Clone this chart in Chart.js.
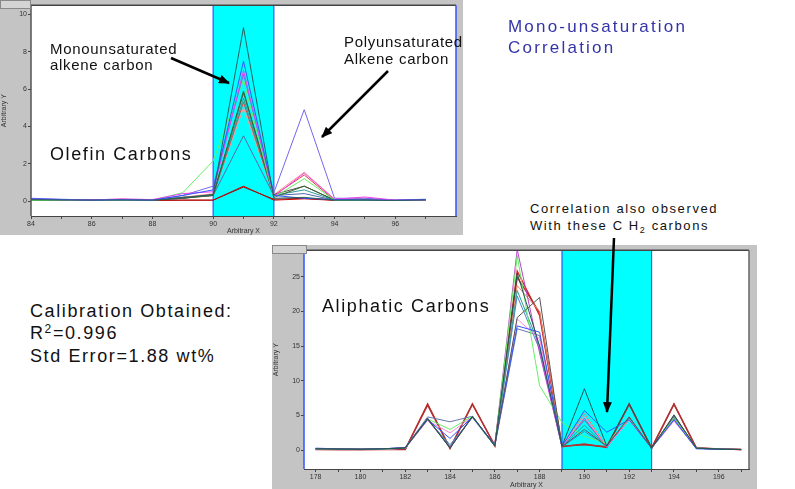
<!DOCTYPE html>
<html><head><meta charset="utf-8">
<script src="https://cdn.jsdelivr.net/npm/chart.js@4.4.1/dist/chart.umd.min.js"></script>
<style>
html,body{margin:0;padding:0;background:#fff;width:795px;height:489px;overflow:hidden;font-family:"Liberation Sans",Arial,sans-serif;}
.frame{position:absolute;background:#c4c4c4;}
.frame canvas{position:absolute;left:0;top:0;}
.tab{position:absolute;background:#d4d4d4;border:1px solid #888;box-sizing:border-box;}
.txt{position:absolute;color:#111;white-space:nowrap;}
</style></head>
<body>
<div class="frame" id="f1" style="left:0;top:0;width:463px;height:235px;"><canvas id="c1"></canvas></div>
<div class="tab" style="left:0;top:0;width:31px;height:9px;"></div>
<div class="frame" id="f2" style="left:272px;top:245px;width:485px;height:244px;"><canvas id="c2"></canvas></div>
<div class="tab" style="left:272px;top:245px;width:35px;height:9px;"></div>

<div class="txt" style="left:50px;top:41px;font-size:15px;line-height:16px;letter-spacing:0.7px;">Monounsaturated<br>alkene carbon</div>
<div class="txt" style="left:344px;top:33px;font-size:15px;line-height:17px;letter-spacing:0.7px;">Polyunsaturated<br>Alkene carbon</div>
<div class="txt" style="left:50px;top:144px;font-size:18px;line-height:20px;letter-spacing:1.6px;">Olefin Carbons</div>
<div class="txt" style="left:508px;top:16px;font-size:17px;line-height:21px;letter-spacing:2.2px;color:#3434a8;">Mono-unsaturation<br>Correlation</div>
<div class="txt" style="left:530px;top:201px;font-size:13px;line-height:16.6px;letter-spacing:1.6px;">Correlation also observed<br>With these C H<span style="font-size:9px;position:relative;top:3px;">2</span> carbons</div>
<div class="txt" style="left:30px;top:301px;font-size:18px;line-height:21.6px;letter-spacing:1.6px;">Calibration Obtained:<br>R<span style="font-size:12px;position:relative;top:-6px;">2</span>=0.996<br>Std Error=1.88 wt%</div>
<div class="txt" style="left:322px;top:296px;font-size:18px;line-height:20px;letter-spacing:1.6px;">Aliphatic Carbons</div>

<svg style="position:absolute;left:0;top:0;" width="795" height="489">
<defs><marker id="ah" markerWidth="8" markerHeight="7" refX="7" refY="3.5" orient="auto" markerUnits="userSpaceOnUse"><path d="M0,0 L8,3.5 L0,7 Z" fill="#000"/></marker>
<marker id="ah2" markerWidth="11" markerHeight="9" refX="10" refY="4.5" orient="auto" markerUnits="userSpaceOnUse"><path d="M0,0 L11,4.5 L0,9 Z" fill="#000"/></marker></defs>
<line x1="171" y1="58" x2="229" y2="83" stroke="#000" stroke-width="2.5" marker-end="url(#ah2)"/>
<line x1="388" y1="71" x2="322" y2="137" stroke="#000" stroke-width="2.5" marker-end="url(#ah2)"/>
<line x1="614" y1="238" x2="607" y2="412" stroke="#000" stroke-width="2.5" marker-end="url(#ah2)"/>
</svg>

<script>
// ---------- Top chart (Olefin) ----------
const topX = [84,85,86,87,88,89,90,91,92,93,94,95,96,97];
const topXTicks = [84,85,86,87,88,89,90,91,92,93,94,95,96,97];
const topYTicks = [0,2,4,6,8,10];
const topBand = [90,92];
const o1  = [0.08,0.06,0.05,0.06,0.05,0.15,0.35,9.3,0.15,0.2,0.05,0.05,0.03,0.06];
const o2  = [0.12,0.08,0.05,0.08,0.05,0.3,0.6,7.5,0.3,0.15,0.08,0.06,0.04,0.08];
const o3  = [0.1,0.07,0.06,0.12,0.08,0.4,0.5,7.0,0.25,1.5,0.1,0.22,0.05,0.05];
const o4  = [0.15,0.1,0.05,0.07,0.05,0.3,0.8,6.8,0.45,4.9,0.15,0.15,0.05,0.1];
const o5  = [0.05,0.05,0.03,0.05,0.05,0.45,2.15,6.5,0.2,1.2,0.05,0.03,0.03,0.05];
const o6  = [0.05,0.05,0.05,0.05,0.05,0.15,0.3,5.9,0.2,0.8,0.05,0.05,0.03,0.05];
const o7  = [0.06,0.05,0.05,0.05,0.05,0.2,0.35,5.8,0.35,0.8,0.06,0.05,0.04,0.06];
const o8  = [0.06,0.05,0.05,0.06,0.05,0.2,0.3,5.5,0.3,0.6,0.05,0.05,0.04,0.06];
const o9  = [0.05,0.05,0.05,0.08,0.05,0.15,0.3,5.3,0.3,1.4,0.05,0.05,0.04,0.05];
const o10 = [0.06,0.05,0.05,0.1,0.06,0.2,0.4,5.0,0.35,1.55,0.1,0.15,0.04,0.05];
const o11 = [0.08,0.06,0.05,0.06,0.05,0.2,0.3,3.5,0.3,0.4,0.05,0.05,0.04,0.06];
const o12 = [0.05,0.05,0.04,0.06,0.04,0.05,0.05,0.8,0.05,0.12,0.04,0.05,0.03,0.05];
const o13 = [0.05,0.04,0.04,0.05,0.04,0.05,0.05,0.75,0.1,0.15,0.05,0.04,0.03,0.05];
const topSeries = [o1,o2,o3,o4,o5,o6,o7,o8,o9,o10,o11,o12,o13];
const topColors = ['#2b5f5f','#3355ff','#ee44ee','#7766ee','#66ee66','#336633','#555555','#339999','#dd4444','#ff9999','#5566aa','#cc0000','#772222'];

// ---------- Bottom chart (Aliphatic) ----------
const botX = [178,179,180,181,182,183,184,185,186,187,188,189,190,191,192,193,194,195,196,197];
const botXTicks = [178,179,180,181,182,183,184,185,186,187,188,189,190,191,192,193,194,195,196,197];
const botYTicks = [0,5,10,15,20,25];
const botBand = [189,193];
const a1  = [0.1,0.1,0.1,0.1,0.1,6.7,0.25,6.7,0.6,25.8,19.4,0.5,0.9,0.4,6.7,0.3,6.7,0.3,0.2,0.1];
const a2  = [0.15,0.1,0.1,0.12,0.15,6.5,0.3,6.6,0.7,24.9,19.8,0.6,0.8,0.5,6.6,0.3,6.6,0.35,0.2,0.1];
const a3  = [0.2,0.15,0.15,0.2,0.3,4.6,0.3,4.9,0.6,25.5,15.0,0.6,8.85,0.6,6.7,0.3,5.1,0.3,0.15,0.1];
const a4  = [0.2,0.2,0.15,0.2,0.35,4.5,0.3,4.8,0.7,19.1,22.0,0.5,3.0,0.6,4.8,0.3,5.0,0.3,0.2,0.1];
const a5  = [0.3,0.2,0.15,0.2,0.4,4.4,1.7,4.8,0.8,17.9,17.0,0.6,5.7,2.6,4.4,0.3,4.4,0.2,0.15,0.1];
const a6  = [0.2,0.15,0.1,0.15,0.3,4.5,3.0,4.9,0.6,28.0,9.3,4.0,2.0,1.0,4.5,0.3,4.6,0.3,0.15,0.1];
const a7  = [0.2,0.15,0.1,0.15,0.3,4.3,2.5,4.8,0.7,18.9,16.0,0.6,4.8,0.5,4.3,0.3,4.2,0.3,0.15,0.1];
const a8  = [0.15,0.1,0.1,0.15,0.25,4.4,0.4,4.9,0.7,28.9,14.0,0.5,4.6,0.4,4.5,0.3,4.5,0.3,0.15,0.1];
const a9  = [0.25,0.2,0.15,0.2,0.4,4.8,4.1,4.9,0.6,17.5,16.5,0.6,4.3,0.6,4.6,0.3,4.8,0.3,0.15,0.1];
const a10 = [0.2,0.15,0.1,0.15,0.3,4.5,0.5,4.8,0.6,23.0,15.0,0.5,3.6,0.5,4.7,0.3,4.6,0.3,0.15,0.1];
const a11 = [0.2,0.15,0.1,0.15,0.3,4.6,0.4,4.9,0.7,23.7,20.0,0.6,5.3,0.5,4.8,0.3,4.7,0.3,0.15,0.1];
const a12 = [0.2,0.15,0.1,0.15,0.3,4.4,0.8,4.7,0.6,22.2,14.5,0.5,2.7,0.6,4.5,0.3,4.3,0.3,0.15,0.1];
const botSeries = [a3,a4,a5,a6,a7,a8,a9,a10,a11,a12,a2,a1];
const botColors = ['#225555','#555555','#3355ff','#66ee66','#ff88dd','#bb44cc','#6677aa','#339999','#ee8866','#4488cc','#aa3333','#dd2222'];

function makeDatasets(xs, series, colors){
  return series.map((s,i)=>({
    data: xs.map((x,j)=>({x:x,y:s[j]})),
    borderColor: colors[i], borderWidth: (colors[i]==='#dd2222'||colors[i]==='#aa3333')?1.4:1,
    pointRadius:0, fill:false, tension:0
  }));
}

const panelPlugin = {
  id:'panel',
  beforeDatasetsDraw(chart, args, opts){
    const {ctx, chartArea:a, scales:{x}} = chart;
    ctx.save();
    ctx.fillStyle='#fff';
    ctx.fillRect(a.left,a.top,a.right-a.left,a.bottom-a.top);
    const b0 = x.getPixelForValue(opts.band[0]), b1 = x.getPixelForValue(opts.band[1]);
    ctx.fillStyle='#00ffff';
    ctx.fillRect(b0,a.top,b1-b0,a.bottom-a.top);
    ctx.strokeStyle='#3355ff'; ctx.lineWidth=1.2;
    ctx.beginPath(); ctx.moveTo(b0,a.top); ctx.lineTo(b0,a.bottom); ctx.moveTo(b1,a.top); ctx.lineTo(b1,a.bottom); ctx.stroke();
    ctx.restore();
  },
  afterDraw(chart, args, opts){
    const {ctx, chartArea:a} = chart;
    ctx.save();
    ctx.lineWidth=1.5;
    ctx.strokeStyle='#444';
    ctx.beginPath(); ctx.moveTo(a.left,a.top); ctx.lineTo(a.right,a.top); ctx.stroke();
    ctx.strokeStyle=opts.leftColor; ctx.beginPath(); ctx.moveTo(a.left,a.top); ctx.lineTo(a.left,a.bottom); ctx.stroke();
    ctx.strokeStyle=opts.rightColor; ctx.beginPath(); ctx.moveTo(a.right,a.top); ctx.lineTo(a.right,a.bottom); ctx.stroke();
    ctx.restore();
  }
};

function makeChart(id, w, h, xs, series, colors, xmin, xmax, ymin, ymax, xTicks, yTicks, band, pad, axW, axH, leftColor, rightColor){
  const cv = document.getElementById(id);
  cv.width = w; cv.height = h; cv.style.width=w+'px'; cv.style.height=h+'px';
  return new Chart(cv, {
    type:'line',
    data:{datasets: makeDatasets(xs, series, colors)},
    plugins:[panelPlugin],
    options:{
      responsive:false, animation:false, devicePixelRatio:1,
      layout:{padding:pad},
      plugins:{legend:{display:false}, tooltip:{enabled:false}, panel:{band:band,leftColor:leftColor,rightColor:rightColor}},
      scales:{
        x:{type:'linear', min:xmin, max:xmax,
           afterFit:s=>{s.height=axH;},
           afterBuildTicks:s=>{s.ticks=xTicks.map(v=>({value:v}));},
           ticks:{autoSkip:false, maxRotation:0, padding:1, color:'#333', font:{size:7, family:'Liberation Sans'},
                  callback:v=> (v%2===0)? String(v) : ''},
           grid:{drawOnChartArea:false, tickLength:3, color:'#444'},
           border:{color:'#444'},
           title:{display:true, text:'Arbitrary X', color:'#333', font:{size:7, family:'Liberation Sans'}, padding:0}},
        y:{min:ymin, max:ymax,
           afterFit:s=>{s.width=axW;},
           afterBuildTicks:s=>{s.ticks=yTicks.map(v=>({value:v}));},
           ticks:{padding:1, color:'#333', font:{size:7, family:'Liberation Sans'}},
           grid:{drawOnChartArea:false, tickLength:3, color:'#444'},
           border:{color:'#444'},
           title:{display:true, text:'Arbitrary Y', color:'#333', font:{size:7, family:'Liberation Sans'}, padding:{top:0,bottom:4}}}
      }
    }
  });
}

makeChart('c1', 463, 235, topX, topSeries, topColors, 84, 98, -0.8, 10.5, topXTicks, topYTicks, topBand,
          {top:5,right:7,left:0,bottom:0}, 31, 19, '#555', '#3355ff');
makeChart('c2', 485, 244, botX, botSeries, botColors, 177.48, 197.35, -2.7, 28.8, botXTicks, botYTicks, botBand,
          {top:4,right:8,left:0,bottom:0}, 32, 20, '#3355ff', '#666');
</script>
</body></html>
